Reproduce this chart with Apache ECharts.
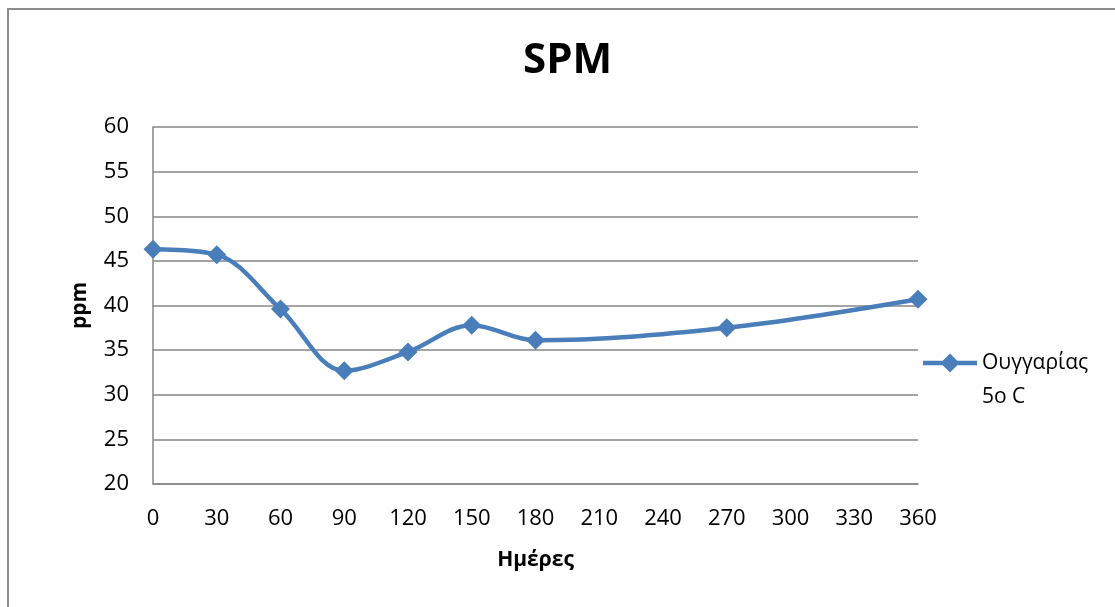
<!DOCTYPE html>
<html>
<head>
<meta charset="utf-8">
<script src="https://cdn.jsdelivr.net/npm/echarts@6/dist/echarts.min.js"></script>
<style>
  html, body { margin: 0; padding: 0; background: #fff; }
  #chart { width: 1115px; height: 607px; }
</style>
</head>
<body>
<div id="chart"></div>
<script>
// ημέρες και τιμές SPM
const days = [0, 30, 60, 90, 120, 150, 180, 270, 360];
const spm = [46.3, 45.7, 39.6, 32.7, 34.8, 37.8, 36.1, 37.5, 40.7];
const seriesName = "Ουγγαρίας\n5o C";

const chart = echarts.init(document.getElementById("chart"));
const font = "'Open Sans', 'Noto Sans', sans-serif";

// εικονίδιο υπομνήματος: γραμμή + ρόμβος στην πάνω γραμμή κειμένου
const legendIcon =
  "path://M0,0 L0.01,0 Z M0,70 L0.01,70 Z " +
  "M0,15.75 L54,15.75 L54,20.25 L0,20.25 Z " +
  "M27,8.5 L36.5,18 L27,27.5 L17.5,18 Z";

const option = {
  animation: false,
  backgroundColor: "#fff",
  textStyle: { fontFamily: font },
  title: {
    text: "SPM",
    left: 518,
    top: 35,
    textStyle: { fontSize: 42, fontWeight: "bold", color: "#000", fontFamily: font },
  },
  graphic: [
    {
      type: "rect",
      shape: { x: 8, y: 9, width: 1200, height: 700 },
      style: { fill: "none", stroke: "#8c8c8c", lineWidth: 2 },
      silent: true,
    },
  ],
  legend: {
    orient: "vertical",
    left: 923,
    top: 345,
    padding: 0,
    itemWidth: 54,
    itemHeight: 70,
    icon: legendIcon,
    textStyle: {
      fontSize: 21,
      color: "#000",
      lineHeight: 34,
      fontFamily: font,
    },
    data: [{ name: seriesName }],
  },
  grid: { left: 153, top: 127, width: 765, height: 357 },
  xAxis: {
    type: "value",
    min: 0,
    max: 360,
    interval: 30,
    name: "Ημέρες",
    nameLocation: "middle",
    nameGap: 66,
    nameTextStyle: { fontSize: 21, fontWeight: "bold", color: "#000", fontFamily: font },
    axisLine: { lineStyle: { color: "#868686", width: 1.5 } },
    axisTick: { show: false },
    axisLabel: { fontSize: 22, color: "#000", margin: 24, fontFamily: font },
    splitLine: { show: false },
  },
  yAxis: {
    type: "value",
    min: 20,
    max: 60,
    interval: 5,
    name: "ppm",
    nameLocation: "middle",
    nameGap: 62,
    nameRotate: 90,
    nameTextStyle: { fontSize: 21, fontWeight: "bold", color: "#000", fontFamily: font },
    axisLine: { show: true, lineStyle: { color: "#868686", width: 1.5 } },
    axisTick: { show: false },
    axisLabel: { fontSize: 22, color: "#000", margin: 24, fontFamily: font },
    splitLine: { lineStyle: { color: "#868686", width: 1.5 } },
  },
  series: [
    {
      name: seriesName,
      type: "line",
      data: days.map((d, i) => [d, spm[i]]),
      smooth: 0.35,
      symbol: "diamond",
      symbolSize: 19,
      lineStyle: { color: "#4a7ebb", width: 4.5 },
      itemStyle: { color: "#4a7ebb" },
    },
  ],
};

chart.setOption(option);
</script>
</body>
</html>
